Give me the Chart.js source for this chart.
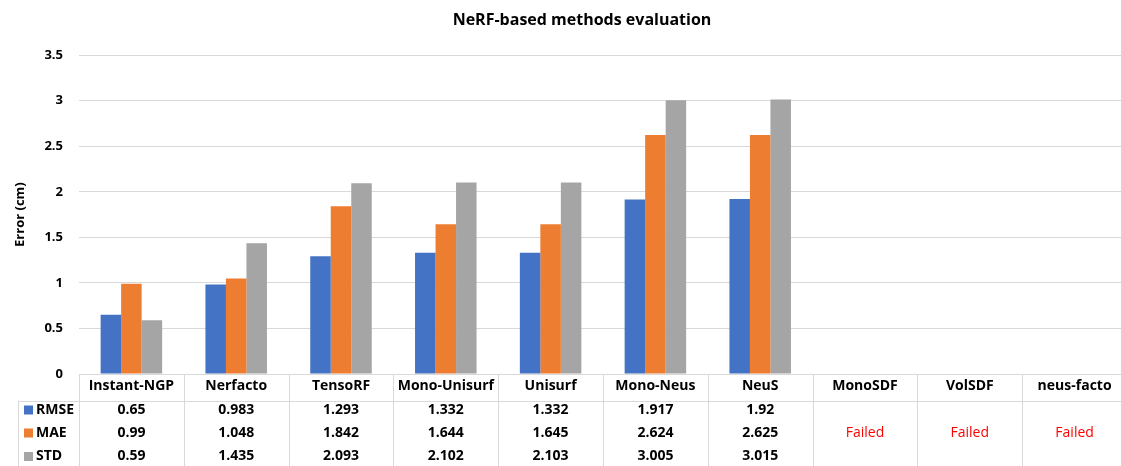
<!DOCTYPE html>
<html>
<head>
<meta charset="utf-8">
<script src="https://cdn.jsdelivr.net/npm/chart.js@4/dist/chart.umd.min.js"></script>
<style>
  html, body { margin: 0; padding: 0; background: #fff; overflow: hidden; }
  #wrap { width: 1121px; height: 466px; overflow: hidden; }
  canvas { display: block; }
</style>
</head>
<body>
<div id="wrap"><canvas id="chart" width="1127" height="466"></canvas></div>
<script>
// Methods evaluated (x categories)
const methods = ['Instant-NGP', 'Nerfacto', 'TensoRF', 'Mono-Unisurf', 'Unisurf',
                 'Mono-Neus', 'NeuS', 'MonoSDF', 'VolSDF', 'neus-facto'];
// Error metrics in cm; null = run failed
const rmse = [0.65, 0.983, 1.293, 1.332, 1.332, 1.917, 1.92, null, null, null];
const mae  = [0.99, 1.048, 1.842, 1.644, 1.645, 2.624, 2.625, null, null, null];
const std  = [0.59, 1.435, 2.093, 2.102, 2.103, 3.005, 3.015, null, null, null];
// Y axis ticks
const yTicks = [0, 0.5, 1, 1.5, 2, 2.5, 3, 3.5];

const FONT = "'Open Sans', 'Noto Sans', sans-serif";
const series = [
  { label: 'RMSE', data: rmse, color: '#4472C4' },
  { label: 'MAE',  data: mae,  color: '#ED7D31' },
  { label: 'STD',  data: std,  color: '#A5A5A5' }
];

// Data table drawn beneath the plot, aligned to the category scale
const dataTable = {
  id: 'dataTable',
  afterDraw(chart) {
    const { ctx, chartArea, scales: { x } } = chart;
    const top = chartArea.bottom;
    const headerBottom = top + 26.5;
    const bottom = chart.height;
    const rowY = [410, 433, 456.5];
    const step = x.getPixelForValue(1) - x.getPixelForValue(0);
    const edges = [];
    for (let i = 0; i <= methods.length; i++) edges.push(x.getPixelForValue(i) - step / 2);

    ctx.save();
    ctx.strokeStyle = '#D9D9D9';
    ctx.lineWidth = 1;
    ctx.beginPath();
    edges.forEach(e => { ctx.moveTo(Math.round(e) + 0.5, top); ctx.lineTo(Math.round(e) + 0.5, bottom); });
    ctx.moveTo(18.5, headerBottom); ctx.lineTo(18.5, bottom);
    ctx.moveTo(18, Math.round(headerBottom) + 0.5); ctx.lineTo(chart.width, Math.round(headerBottom) + 0.5);
    ctx.stroke();

    // Series keys
    ctx.textBaseline = 'middle';
    ctx.font = 'bold 14px ' + FONT;
    series.forEach((s, r) => {
      ctx.fillStyle = s.color;
      ctx.fillRect(24, rowY[r] - 4.5, 9, 9);
      ctx.fillStyle = '#000';
      ctx.textAlign = 'left';
      ctx.fillText(s.label, 36, rowY[r]);
    });

    // Values
    ctx.textAlign = 'center';
    methods.forEach((m, i) => {
      const cx = x.getPixelForValue(i);
      if (series.every(s => s.data[i] === null)) {
        ctx.font = '14px ' + FONT;
        ctx.fillStyle = '#FF0000';
        ctx.fillText('Failed', cx, rowY[1]);
        return;
      }
      ctx.font = 'bold 14px ' + FONT;
      ctx.fillStyle = '#000';
      series.forEach((s, r) => ctx.fillText(String(s.data[i]), cx, rowY[r]));
    });
    ctx.restore();
  }
};

new Chart(document.getElementById('chart'), {
  type: 'bar',
  data: {
    labels: methods,
    datasets: series.map(s => ({
      label: s.label,
      data: s.data,
      backgroundColor: s.color,
      borderWidth: 0
    }))
  },
  options: {
    responsive: false,
    animation: false,
    layout: { padding: { left: 37, right: 0, top: 0, bottom: 0 } },
    datasets: { bar: { barPercentage: 1, categoryPercentage: 0.587 } },
    plugins: {
      legend: { display: false },
      tooltip: { enabled: false },
      title: {
        display: true,
        text: 'NeRF-based methods evaluation',
        color: '#000',
        font: { family: FONT, size: 16, weight: 'bold' },
        padding: { top: 11, bottom: 25 }
      }
    },
    scales: {
      x: {
        grid: { display: false, drawTicks: false },
        border: { display: true, color: '#D9D9D9', width: 1 },
        ticks: { color: '#000', padding: 4, font: { family: FONT, size: 14, weight: 'bold' }, maxRotation: 0, autoSkip: false },
        afterFit(scale) { scale.height = 92; }
      },
      y: {
        min: 0,
        max: 3.5,
        afterBuildTicks(scale) { scale.ticks = yTicks.map(v => ({ value: v })); },
        grid: { color: '#D9D9D9', drawTicks: false },
        border: { display: false },
        ticks: {
          color: '#000',
          padding: 16,
          font: { family: FONT, size: 13, weight: 'bold' },
          callback: v => String(v)
        },
        title: {
          display: true,
          text: 'Error (cm)',
          color: '#000',
          font: { family: FONT, size: 13, weight: 'bold' },
          padding: { top: -24.8, bottom: 0 }
        },
        afterFit(scale) { scale.width = 42; }
      }
    }
  },
  plugins: [dataTable]
});
</script>
</body>
</html>
